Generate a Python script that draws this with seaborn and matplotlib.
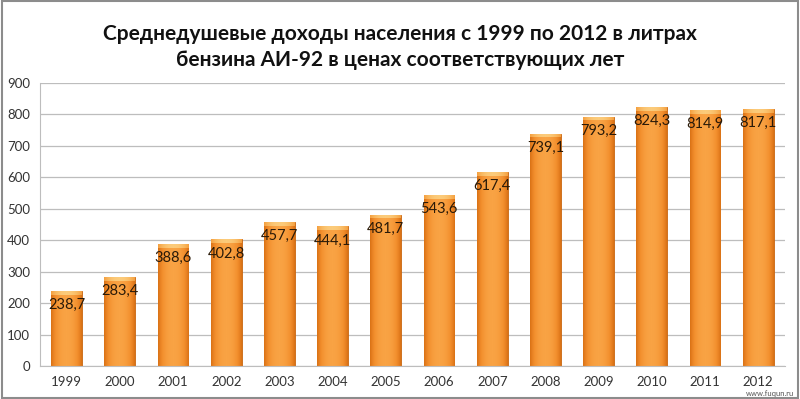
import matplotlib as mat
import matplotlib.pyplot as plt
import seaborn as sns
import numpy as np
import pandas as pd

years = ['1999', '2000', '2001', '2002', '2003', '2004', '2005',
         '2006', '2007', '2008', '2009', '2010', '2011', '2012']
litres = [238.7, 283.4, 388.6, 402.8, 457.7, 444.1, 481.7,
          543.6, 617.4, 739.1, 793.2, 824.3, 814.9, 817.1]
yticks = [0, 100, 200, 300, 400, 500, 600, 700, 800, 900]
title = ('Среднедушевые доходы населения с 1999 по 2012 в литрах\n'
         'бензина АИ-92 в ценах соответствующих лет')

sns.set_style('white')
plt.rcParams['font.family'] = ['Lato', 'DejaVu Sans']

df = pd.DataFrame({'year': years, 'value': litres})

fig = plt.figure(figsize=(8, 3.99), dpi=100)
ax = fig.add_axes([0.05, 0.0827, 0.931, 0.7093])

sns.barplot(data=df, x='year', y='value', ax=ax, color='#F29030',
            width=0.58, saturation=1, zorder=2)

# orange gradient: dark edges, light centre
grad = np.linspace(-1, 1, 64)
shade = 1 - np.abs(grad) ** 2.2
cmap = mat.colors.LinearSegmentedColormap.from_list('o', ['#DA7216', '#F28E2C', '#F9A344'])
capcmap = mat.colors.LinearSegmentedColormap.from_list('c', ['#F4A040', '#FCCB7A'])
for p in ax.patches:
    x0, y0 = p.get_x(), p.get_y()
    w, h = p.get_width(), p.get_height()
    im = ax.imshow(shade[None, :], cmap=cmap, aspect='auto',
                   extent=[x0, x0 + w, y0, y0 + h], zorder=2.5,
                   vmin=0, vmax=1)
    im.set_clip_path(p)
    # light bevel at the top of the bar
    cap = ax.imshow(shade[None, :], cmap=capcmap, aspect='auto',
                    extent=[x0, x0 + w, h - 12, h], zorder=2.6,
                    vmin=0, vmax=1)
    cap.set_clip_path(p)
    p.set_edgecolor('#C8640E')
    p.set_linewidth(0.6)
    ax.text(x0 + w / 2, h - 45, f'{h:.1f}'.replace('.', ','),
            ha='center', va='center', fontsize=10.5, color='#2A1A08', zorder=4)

ax.set_xlim(-0.5, len(years) - 0.5)
ax.set_ylim(0, 900)
ax.set_yticks(yticks)
ax.yaxis.grid(True, color='#BDBDBD', linewidth=0.9, zorder=0)
ax.set_axisbelow(True)
for s in ['top', 'right']:
    ax.spines[s].set_visible(False)
ax.spines['left'].set_color('#BDBDBD')
ax.spines['bottom'].set_color('#BDBDBD')
ax.tick_params(axis='both', length=0, labelsize=9.5, colors='#333333', pad=7)
ax.set_xlabel('')
ax.set_ylabel('')

fig.text(0.5, 0.94, title, ha='center', va='top', fontsize=15,
         fontweight='bold', color='#111111', linespacing=1.35)
fig.text(0.993, 0.006, 'www.fuqun.ru', ha='right', va='bottom',
         fontsize=5.5, color='#555555')
fig.patches.append(mat.patches.Rectangle((0.002, 0.003), 0.996, 0.994,
                                          transform=fig.transFigure,
                                          fill=False, edgecolor='#8C8C8C',
                                          linewidth=1.5))

fig.savefig('out.png', dpi=100)
